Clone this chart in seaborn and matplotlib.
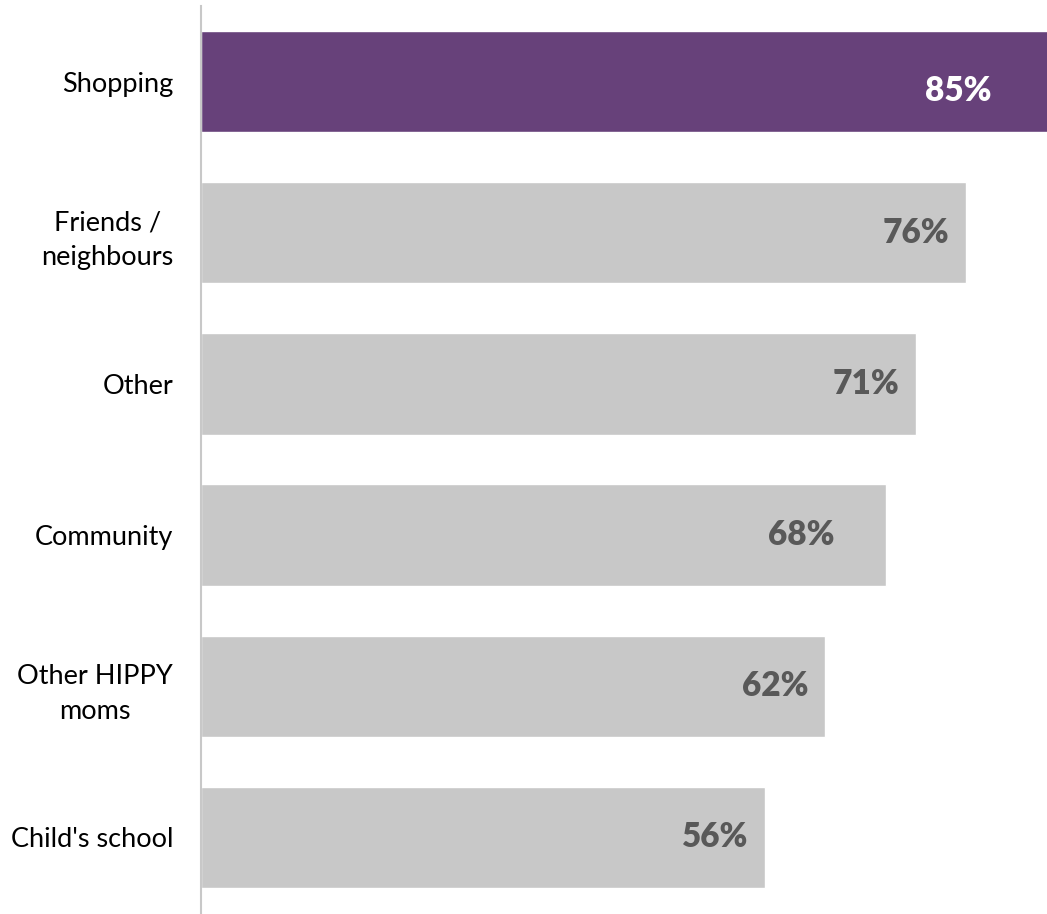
import matplotlib
matplotlib.use("Agg")
import matplotlib.pyplot as plt
import seaborn as sns
import pandas as pd

# Sources of support, share of respondents (%)
categories = ["Shopping", "Friends /\nneighbours", "Other", "Community",
              "Other HIPPY\nmoms", "Child's school"]
values = [85, 76, 71, 68, 62, 56]
value_labels = ["85%", "76%", "71%", "68%", "62%", "56%"]

# Label placement inside the bar end (pixels left of the end, pixels down)
label_pad_px = [55, 17, 17, 51, 17, 17]
label_drop_px = [9, 0, 0, 0, 0, 0]

PURPLE = "#67417A"
GREY = "#C8C8C8"
DARK = "#595959"

sns.set_theme(style="white")
plt.rcParams["font.family"] = ["Lato", "DejaVu Sans"]

df = pd.DataFrame({"category": categories, "value": values})
palette = {c: (PURPLE if i == 0 else GREY) for i, c in enumerate(categories)}

fig = plt.figure(figsize=(10.47, 9.14), dpi=100)
ax = fig.add_axes([201 / 1047, 1 / 914, 846 / 1047, 907 / 914])

sns.barplot(data=df, y="category", x="value", hue="category", palette=palette,
            orient="h", width=0.67, legend=False, ax=ax, saturation=1)

xmax = 84.0
ax.set_xlim(0, xmax)
ax.set_ylim(5.5, -0.5)

for i, (v, txt) in enumerate(zip(values, value_labels)):
    end = min(v, xmax)
    ax.annotate(txt, xy=(end, i), xytext=(-label_pad_px[i] * 0.72, -label_drop_px[i] * 0.72),
                textcoords="offset points", ha="right", va="center",
                fontsize=24, fontweight="heavy",
                color="white" if i == 0 else DARK)

ax.set_xlabel("")
ax.set_ylabel("")
ax.set_xticks([])
ax.tick_params(axis="y", length=0, pad=20, labelsize=19.5, labelcolor="black")
for lbl in ax.get_yticklabels():
    lbl.set_multialignment("center")
    lbl.set_linespacing(1.5)

for side in ["top", "right", "bottom"]:
    ax.spines[side].set_visible(False)
ax.spines["left"].set_color(GREY)
ax.spines["left"].set_linewidth(1.5)

fig.savefig("out.png", dpi=100, facecolor="white")
